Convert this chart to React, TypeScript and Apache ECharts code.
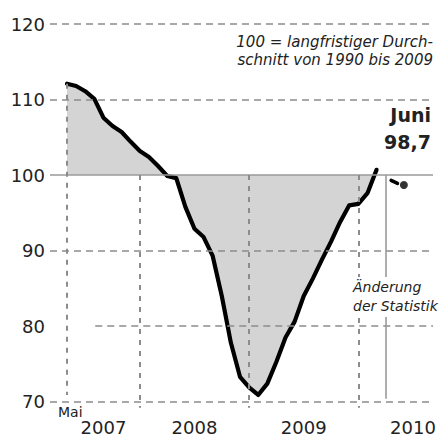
import React, { useEffect, useRef } from "react";
import * as echarts from "echarts";

// Months counted from May 2007 (0 = Mai 2007)
const indexValues = [
  112.1, 111.8, 111.1, 110.1, 107.6, 106.5, 105.7, 104.4, 103.2, 102.4,
  101.2, 99.9, 99.6, 95.8, 92.9, 91.8, 89.3, 84.0, 77.8, 73.3,
  71.9, 70.9, 72.4, 75.3, 78.5, 80.6, 84.0, 86.3, 88.8, 91.2,
  93.8, 96.0, 96.2, 97.6, 100.7,
];
const newStatMonths = [35.6, 36.3];
const newStatValues = [99.3, 98.9];
const lastMonth = 37;
const lastValue = 98.7;

const yTicks = [70, 80, 90, 100, 110, 120];
const yearStartMonths = [0, 8, 20, 32];
const yearLabelMonths = [4, 14, 26, 38];
const yearLabels = ["2007", "2008", "2009", "2010"];
const changeMonth = 35;
const BASE = 100;
const Y_MIN = 69;
const Y_MAX = 120;
const X_MIN = -1.87;
const X_MAX = 40.2;
const GRID80_START = 3.1; // the 80 line starts further right in the original
const FIRST_VLINE_END = 70.9;
const VLINE_END = 69.2;

const FONT = "'DejaVu Sans', 'Open Sans', sans-serif";

export default function App() {
  const ref = useRef<HTMLDivElement>(null);
  useEffect(() => {
    if (!ref.current) return;
    const chart = echarts.init(ref.current, null, { renderer: "svg" });
    const lineData = indexValues.map((v, i) => [i, v]);
    const gridColor = "#8c8c8c";
    const dashed = { type: [7, 5], color: gridColor, width: 1.5 };
    const markData: any[] = [];
    yTicks.forEach((t) => {
      if (t === BASE) {
        markData.push({
          yAxis: t,
          lineStyle: { type: "solid", color: "#9a9a9a", width: 1.6 },
        });
      } else if (t === 80) {
        markData.push([
          { coord: [GRID80_START, t], lineStyle: dashed },
          { coord: [X_MAX, t] },
        ]);
      } else {
        markData.push({ yAxis: t, lineStyle: dashed });
      }
    });
    yearStartMonths.forEach((m) => {
      const top = m === 0 ? indexValues[0] : BASE;
      const bottom = m === 0 ? FIRST_VLINE_END : VLINE_END;
      markData.push([
        { coord: [m, top], lineStyle: { type: [5, 6], color: gridColor, width: 2 } },
        { coord: [m, bottom] },
      ]);
    });
    markData.push([
      { coord: [changeMonth, BASE], lineStyle: { type: "solid", color: "#9a9a9a", width: 1.6 } },
      { coord: [changeMonth, 70.4] },
    ]);

    chart.setOption({
      animation: false,
      backgroundColor: "#ffffff",
      grid: { left: 50, right: 13, top: 24, bottom: 29.7, containLabel: false },
      xAxis: {
        type: "value",
        min: X_MIN,
        max: X_MAX,
        axisLine: { show: false },
        axisTick: { show: false },
        splitLine: { show: false },
        axisLabel: {
          customValues: yearLabelMonths,
          formatter: (v: number) => {
            const i = yearLabelMonths.indexOf(v);
            return i >= 0 ? yearLabels[i] : "";
          },
          fontFamily: FONT,
          fontSize: 18,
          color: "#222",
          margin: 9,
        },
      },
      yAxis: {
        type: "value",
        min: Y_MIN,
        max: Y_MAX,
        axisLine: { show: false },
        axisTick: { show: false },
        splitLine: { show: false },
        axisLabel: {
          customValues: yTicks,
          fontFamily: FONT,
          fontSize: 18,
          color: "#222",
          margin: 5,
        },
      },
      series: [
        {
          type: "line",
          data: lineData,
          symbol: "none",
          lineStyle: { width: 0, opacity: 0 },
          areaStyle: { color: "#d4d4d4", opacity: 1, origin: BASE },
          z: 1,
          silent: true,
        },
        {
          type: "line",
          data: lineData,
          symbol: "none",
          lineStyle: { width: 0, opacity: 0 },
          z: 2,
          silent: true,
          markLine: {
            silent: true,
            symbol: ["none", "none"],
            label: { show: false },
            data: markData,
          },
        },
        {
          type: "line",
          data: lineData,
          symbol: "none",
          lineStyle: { color: "#000", width: 4.2, join: "round", cap: "round" },
          z: 3,
        },
        {
          type: "line",
          data: newStatMonths.map((m, i) => [m, newStatValues[i]]),
          symbol: "none",
          lineStyle: { color: "#000", width: 3.5, cap: "round" },
          z: 3,
        },
        {
          type: "scatter",
          data: [[lastMonth, lastValue]],
          symbol: "circle",
          symbolSize: 8,
          itemStyle: { color: "#000" },
          z: 4,
        },
      ],
      graphic: [
        {
          type: "text",
          x: 433,
          y: 33,
          z: 100,
          style: {
            text: "100 = langfristiger Durch-\nschnitt von 1990 bis 2009",
            font: `italic 15px ${FONT}`,
            fill: "#222",
            align: "right",
            verticalAlign: "top",
            lineHeight: 18,
          },
        },
        {
          type: "text",
          x: 431,
          y: 101,
          z: 100,
          style: {
            text: "Juni\n98,7",
            font: `bold 19px ${FONT}`,
            fill: "#222",
            align: "right",
            verticalAlign: "top",
            lineHeight: 27,
          },
        },
        {
          type: "text",
          x: 353,
          y: 277,
          z: 100,
          style: {
            text: "Änderung\nder Statistik",
            font: `italic 14px ${FONT}`,
            fill: "#222",
            align: "left",
            verticalAlign: "top",
            lineHeight: 19,
            backgroundColor: "#ffffff",
            padding: [0, 0, 2, 0],
          },
        },
        {
          type: "text",
          x: 58,
          y: 405,
          z: 100,
          style: {
            text: "Mai",
            font: `14px ${FONT}`,
            fill: "#222",
            align: "left",
            verticalAlign: "top",
          },
        },
      ],
    });
    return () => chart.dispose();
  }, []);
  return (
    <div
      ref={ref}
      style={{ position: "fixed", left: 0, top: 0, width: 446, height: 439 }}
    />
  );
}
